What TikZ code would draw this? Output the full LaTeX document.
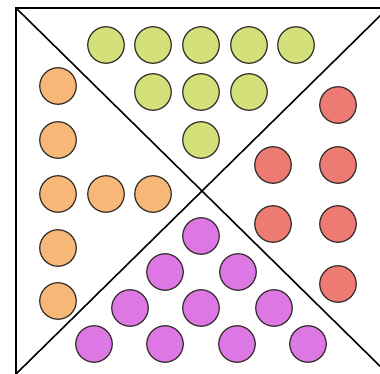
\documentclass[tikz,border=0pt]{standalone}
\usepackage{tikz}
\usetikzlibrary{positioning}
\definecolor{chipgreen}{RGB}{212,224,122}
\definecolor{chiporange}{RGB}{246,183,121}
\definecolor{chipred}{RGB}{238,123,115}
\definecolor{chippurple}{RGB}{221,119,227}
\definecolor{chipline}{RGB}{50,45,40}

\begin{document}
\begin{tikzpicture}[x=0.02cm, y=-0.02cm,
    chip/.style={circle, draw=chipline, line width=0.7pt, minimum size=0.73cm, inner sep=0pt},
    frame/.style={line width=1.4pt, black},
    diag/.style={line width=0.9pt, black}
]
    \useasboundingbox (0,0) rectangle (380,374);
    \clip (0,0) rectangle (380,374);

    % Square (only left and top edges inside the view) and its diagonals
    \coordinate (tl) at (16,8);
    \coordinate (tr) at (388,8);
    \coordinate (br) at (388,374);
    \coordinate (bl) at (16,374);
    \draw[diag] (tl) -- (br);
    \draw[diag] (bl) -- (tr);
    \draw[frame] (bl) -- (tl) -- (tr);

    % Green chips (top)
    \foreach \x/\y [count=\i] in {106/45, 153/45, 201/45, 249/45, 296/45,
                                  153/92, 201/92, 249/92, 201/140}
        \node[chip, fill=chipgreen] (g\i) at (\x,\y) {};

    % Orange chips (left)
    \foreach \x/\y [count=\i] in {58/86, 58/140, 58/194, 106/194, 153/194,
                                  58/248, 58/301}
        \node[chip, fill=chiporange] (o\i) at (\x,\y) {};

    % Red chips (right)
    \foreach \x/\y [count=\i] in {338/105, 273/165, 338/165, 273/224,
                                  338/224, 338/284}
        \node[chip, fill=chipred] (r\i) at (\x,\y) {};

    % Purple chips (bottom)
    \foreach \x/\y [count=\i] in {201/236, 165/272, 238/272, 130/308, 201/308,
                                  274/308, 94/344, 165/344, 237/344, 308/344}
        \node[chip, fill=chippurple] (p\i) at (\x,\y) {};
\end{tikzpicture}
\end{document}
